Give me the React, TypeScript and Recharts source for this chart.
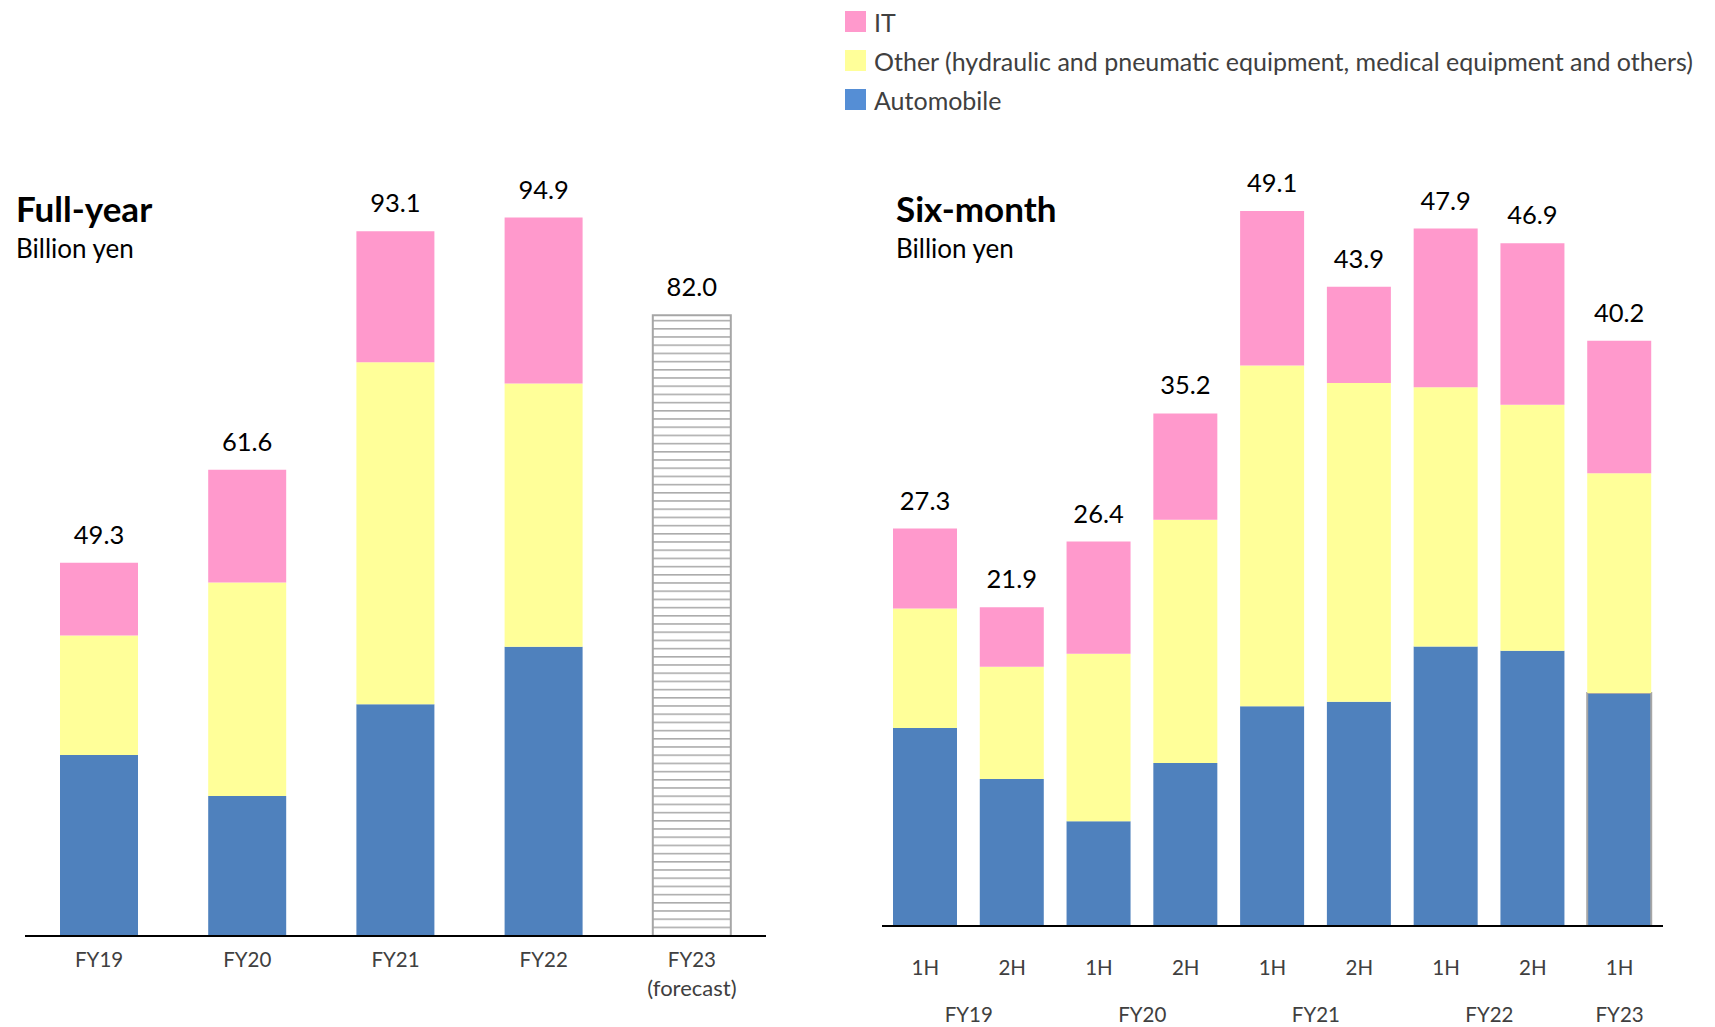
import { BarChart, Bar, XAxis, YAxis, LabelList, Cell } from 'recharts';

// Full-year sales, billion yen
const FY_CATEGORIES = ['FY19', 'FY20', 'FY21', 'FY22', 'FY23'];
const FY_NOTES = ['', '', '', '', '(forecast)'];
const FY_AUTOMOBILE = [23.9, 18.5, 30.6, 38.2, 0];
const FY_OTHER = [15.8, 28.2, 45.2, 34.8, 0];
const FY_IT = [9.6, 14.9, 17.3, 21.9, 0];
const FY_FORECAST = [0, 0, 0, 0, 82.0];
const FY_TOTALS = [49.3, 61.6, 93.1, 94.9, 82.0];

// Six-month sales, billion yen
const H_HALVES = ['1H', '2H', '1H', '2H', '1H', '2H', '1H', '2H', '1H'];
const H_YEARS = ['FY19', 'FY19', 'FY20', 'FY20', 'FY21', 'FY21', 'FY22', 'FY22', 'FY23'];
const H_AUTOMOBILE = [13.6, 10.1, 7.2, 11.2, 15.1, 15.4, 19.2, 18.9, 16.0];
const H_OTHER = [8.2, 7.7, 11.5, 16.7, 23.4, 21.9, 17.8, 16.9, 15.1];
const H_IT = [5.5, 4.1, 7.7, 7.3, 10.6, 6.6, 10.9, 11.1, 9.1];
const H_TOTALS = [27.3, 21.9, 26.4, 35.2, 49.1, 43.9, 47.9, 46.9, 40.2];

const LEGEND = [
  { name: 'IT', color: '#FF99CC' },
  { name: 'Other (hydraulic and pneumatic equipment, medical equipment and others)', color: '#FFFF99' },
  { name: 'Automobile', color: '#558ED5' },
];

const PINK = '#FF99CC';
const YELLOW = '#FFFF99';
const BLUE = '#4F81BD';
const GRAY = '#A6A6A6';
const FONT = 'Lato, "Noto Sans", sans-serif';

const fullYearData = FY_CATEGORIES.map((name, i) => ({
  name,
  note: FY_NOTES[i],
  automobile: FY_AUTOMOBILE[i],
  other: FY_OTHER[i],
  it: FY_IT[i],
  forecast: FY_FORECAST[i],
  // the total sits on whichever series tops the stack
  actualTotal: FY_FORECAST[i] > 0 ? null : FY_TOTALS[i],
  forecastTotal: FY_FORECAST[i] > 0 ? FY_TOTALS[i] : null,
}));

const halfData = H_HALVES.map((half, i) => ({
  key: `${H_YEARS[i]}-${half}`,
  half,
  year: H_YEARS[i],
  automobile: H_AUTOMOBILE[i],
  other: H_OTHER[i],
  it: H_IT[i],
  total: H_TOTALS[i],
}));

const LEFT_W = 800;
const RIGHT_X = 830;
const RIGHT_W = 885;
const RIGHT_MARGIN = { top: 198, right: 52, bottom: 41, left: 52 };
const RIGHT_PLOT_W = RIGHT_W - RIGHT_MARGIN.left - RIGHT_MARGIN.right;

function TotalLabel(props: any) {
  const { x, y, width, value } = props;
  if (value == null || value === '') return null;
  return (
    <text
      x={Number(x) + Number(width) / 2}
      y={Number(y) - 19}
      textAnchor="middle"
      fontFamily={FONT}
      fontSize={25.5}
      fill="#000"
    >
      {Number(value).toFixed(1)}
    </text>
  );
}

function FullYearTick(props: any) {
  const { x, y, index } = props;
  const row = fullYearData[index];
  return (
    <g>
      <text x={x} y={y + 31} textAnchor="middle" fontFamily={FONT} fontSize={20.5} fill="#404040">
        {row.name}
      </text>
      {row.note && (
        <text x={x} y={y + 60} textAnchor="middle" fontFamily={FONT} fontSize={22} fill="#404040">
          {row.note}
        </text>
      )}
    </g>
  );
}

function HalfTick(props: any) {
  const { x, y, index } = props;
  const band = RIGHT_PLOT_W / halfData.length;
  const year = H_YEARS[index];
  const first = index === 0 || H_YEARS[index - 1] !== year;
  const span = H_YEARS.filter((v) => v === year).length;
  return (
    <g>
      <text x={x} y={y + 49} textAnchor="middle" fontFamily={FONT} fontSize={20.5} fill="#404040">
        {H_HALVES[index]}
      </text>
      {first && (
        <text
          x={x + ((span - 1) * band) / 2}
          y={y + 96}
          textAnchor="middle"
          fontFamily={FONT}
          fontSize={20.5}
          fill="#404040"
        >
          {year}
        </text>
      )}
    </g>
  );
}

function Heading({ x, title }: { x: number; title: string }) {
  return (
    <div style={{ position: 'absolute', left: x, top: 185, fontFamily: FONT, color: '#000' }}>
      <div style={{ fontSize: 35, fontWeight: 700, lineHeight: '46px' }}>{title}</div>
      <div style={{ fontSize: 26, lineHeight: '34px' }}>Billion yen</div>
    </div>
  );
}

function LegendBlock() {
  return (
    <div style={{ position: 'absolute', left: 845, top: 2, fontFamily: FONT, color: '#404040' }}>
      {LEGEND.map((item) => (
        <div key={item.name} style={{ display: 'flex', alignItems: 'center', height: 39 }}>
          <span style={{ width: 21, height: 21, background: item.color, marginRight: 8 }} />
          <span style={{ fontSize: 25 }}>{item.name}</span>
        </div>
      ))}
    </div>
  );
}

export default function App() {
  return (
    <div
      style={{
        position: 'absolute',
        left: 0,
        top: 0,
        width: 1715,
        height: 1027,
        background: '#fff',
        overflow: 'hidden',
      }}
    >
      <LegendBlock />
      <Heading x={16} title="Full-year" />
      <Heading x={896} title="Six-month" />

      <div style={{ position: 'absolute', left: 0, top: 0 }}>
        <BarChart
          width={LEFT_W}
          height={1027}
          data={fullYearData}
          margin={{ top: 179, right: 34, bottom: 31, left: 25 }}
          barSize={78}
        >
          <defs>
            <pattern id="forecastHatch" width="8" height="8.2" patternUnits="userSpaceOnUse">
              <rect width="8" height="8.2" fill="#fff" />
              <line x1="0" y1="0.8" x2="8" y2="0.8" stroke={GRAY} strokeWidth="1.5" />
            </pattern>
          </defs>
          <XAxis
            dataKey="name"
            height={60}
            axisLine={{ stroke: '#000', strokeWidth: 2 }}
            tickLine={false}
            tickSize={0}
            tickMargin={0}
            interval={0}
            tick={<FullYearTick />}
          />
          <YAxis hide domain={[0, 100]} />
          <Bar dataKey="automobile" stackId="a" fill={BLUE} isAnimationActive={false} />
          <Bar dataKey="other" stackId="a" fill={YELLOW} isAnimationActive={false} />
          <Bar dataKey="it" stackId="a" fill={PINK} isAnimationActive={false}>
            <LabelList dataKey="actualTotal" content={<TotalLabel />} />
          </Bar>
          <Bar
            dataKey="forecast"
            stackId="a"
            fill="url(#forecastHatch)"
            stroke={GRAY}
            strokeWidth={2}
            isAnimationActive={false}
          >
            <LabelList dataKey="forecastTotal" content={<TotalLabel />} />
          </Bar>
        </BarChart>
      </div>

      <div style={{ position: 'absolute', left: RIGHT_X, top: 0 }}>
        <BarChart width={RIGHT_W} height={1027} data={halfData} margin={RIGHT_MARGIN} barSize={64}>
          <XAxis
            dataKey="key"
            height={60}
            axisLine={{ stroke: '#000', strokeWidth: 2 }}
            tickLine={false}
            tickSize={0}
            tickMargin={0}
            interval={0}
            tick={<HalfTick />}
          />
          <YAxis hide domain={[0, 50]} />
          <Bar dataKey="automobile" stackId="h" fill={BLUE} isAnimationActive={false}>
            {halfData.map((d, i) => (
              <Cell
                key={d.key}
                stroke={i === halfData.length - 1 ? GRAY : 'none'}
                strokeWidth={i === halfData.length - 1 ? 2 : 0}
              />
            ))}
          </Bar>
          <Bar dataKey="other" stackId="h" fill={YELLOW} isAnimationActive={false} />
          <Bar dataKey="it" stackId="h" fill={PINK} isAnimationActive={false}>
            <LabelList dataKey="total" content={<TotalLabel />} />
          </Bar>
        </BarChart>
      </div>
    </div>
  );
}
